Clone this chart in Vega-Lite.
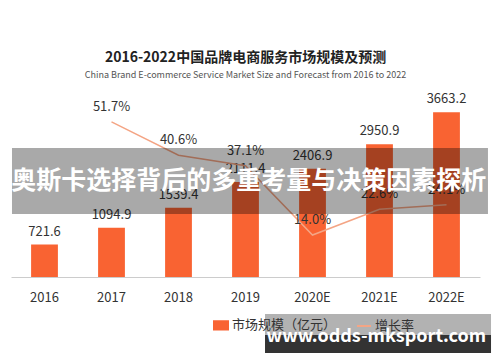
{
  "$schema": "https://vega.github.io/schema/vega-lite/v6.json",
  "width": 469,
  "height": 180,
  "autosize": {"type": "none"},
  "padding": {"left": 11, "top": 97, "right": 20, "bottom": 85},
  "background": "white",
  "config": {"font": "Noto Sans CJK SC", "view": {"stroke": null}},
  "title": {
    "text": "2016-2022中国品牌电商服务市场规模及预测",
    "subtitle": "China Brand E-commerce Service Market Size and Forecast from 2016 to 2022",
    "anchor": "middle",
    "frame": "group",
    "fontSize": 14,
    "fontWeight": "bold",
    "color": "#222222",
    "subtitleFontSize": 9,
    "subtitleColor": "#555555",
    "subtitlePadding": 6,
    "offset": 13
  },
  "datasets": {
    "market": [
      {"year": "2016", "size": 721.6, "growth": null},
      {"year": "2017", "size": 1094.9, "growth": 0.517},
      {"year": "2018", "size": 1539.4, "growth": 0.406},
      {"year": "2019", "size": 2111.4, "growth": 0.371},
      {"year": "2020E", "size": 2406.9, "growth": 0.14},
      {"year": "2021E", "size": 2950.9, "growth": 0.226},
      {"year": "2022E", "size": 3663.2, "growth": 0.241}
    ],
    "boxes": [
      {"name": "banner", "x0": 0.0021, "x1": 1.017, "y0": 1400, "y1": 2867, "shade": 0.63},
      {"name": "wm_top", "x0": 0.5416, "x1": 1.0235, "y0": -1289, "y1": -822, "shade": 0.6},
      {"name": "wm_bottom", "x0": 0.5416, "x1": 1.0235, "y0": -1689, "y1": -1289, "shade": 1}
    ],
    "texts": [
      {"label": "奥斯卡选择背后的多重考量与决策因素探析", "tx": 0.507, "ty": 2133, "kind": "banner"},
      {"label": "www.odds-mksport.com", "tx": 0.779, "ty": -1340, "kind": "wm"}
    ]
  },
  "resolve": {"scale": {"x": "independent", "y": "independent", "color": "shared"}},
  "layer": [
    {
      "data": {"name": "market"},
      "mark": {"type": "bar"},
      "encoding": {
        "x": {
          "field": "year", "type": "nominal", "sort": null,
          "scale": {"domain": ["2016", "2017", "2018", "2019", "2020E", "2021E", "2022E"], "paddingInner": 0.6, "paddingOuter": 0.3},
          "axis": {"title": null, "labelAngle": 0, "labelFontSize": 13, "labelColor": "#333333", "domainColor": "#cccccc", "ticks": false, "labelPadding": 14, "grid": false}
        },
        "y": {"field": "size", "type": "quantitative", "scale": {"domain": [0, 4000], "nice": false}, "axis": null},
        "color": {
          "datum": "市场规模（亿元）",
          "type": "nominal",
          "scale": {"domain": ["市场规模（亿元）", "增长率"], "range": ["#F96332", "#F4A585"]},
          "legend": {
            "title": null,
            "orient": "none",
            "direction": "horizontal",
            "legendX": 202,
            "legendY": 220,
            "labelFontSize": 13,
            "labelColor": "#333333",
            "labelOffset": 3,
            "columnPadding": 16,
            "symbolSize": 196,
            "symbolOpacity": 1,
            "encode": {
              "symbols": {
                "update": {
                  "shape": {"signal": "datum.value === '增长率' ? 'M-1,0H1' : 'M-1,-0.6H1V0.6H-1Z'"},
                  "stroke": {"signal": "datum.value === '增长率' ? '#F4A585' : '#F96332'"},
                  "strokeWidth": {"value": 2},
                  "opacity": {"value": 1}
                }
              }
            }
          }
        }
      }
    },
    {
      "data": {"name": "market"},
      "mark": {"type": "text", "baseline": "bottom", "dy": -6, "fontSize": 13, "color": "#333333"},
      "encoding": {
        "x": {"field": "year", "type": "nominal", "sort": null, "scale": {"domain": ["2016", "2017", "2018", "2019", "2020E", "2021E", "2022E"], "paddingInner": 0.6, "paddingOuter": 0.3}, "axis": null},
        "y": {"field": "size", "type": "quantitative", "scale": {"domain": [0, 4000], "nice": false}, "axis": null},
        "text": {"field": "size", "type": "quantitative", "format": ".1f"}
      }
    },
    {
      "data": {"name": "market"},
      "transform": [{"filter": "datum.growth != null"}],
      "mark": {"type": "line", "strokeWidth": 1.5},
      "encoding": {
        "x": {"field": "year", "type": "nominal", "sort": null, "scale": {"domain": ["2016", "2017", "2018", "2019", "2020E", "2021E", "2022E"], "paddingInner": 0.6, "paddingOuter": 0.3}, "axis": null},
        "y": {"field": "growth", "type": "quantitative", "scale": {"domain": [0, 0.6], "nice": false}, "axis": null},
        "color": {"datum": "增长率", "type": "nominal"}
      }
    },
    {
      "data": {"name": "market"},
      "transform": [{"filter": "datum.growth != null"}],
      "mark": {"type": "text", "baseline": "bottom", "dy": -8, "fontSize": 13, "color": "#333333"},
      "encoding": {
        "x": {"field": "year", "type": "nominal", "sort": null, "scale": {"domain": ["2016", "2017", "2018", "2019", "2020E", "2021E", "2022E"], "paddingInner": 0.6, "paddingOuter": 0.3}, "axis": null},
        "y": {"field": "growth", "type": "quantitative", "scale": {"domain": [0, 0.6], "nice": false}, "axis": null},
        "text": {"field": "growth", "type": "quantitative", "format": ".1%"}
      }
    },
    {
      "data": {"name": "boxes"},
      "mark": {"type": "rect", "color": "#000000"},
      "encoding": {
        "x": {"field": "x0", "type": "quantitative", "scale": {"domain": [0, 1], "nice": false, "zero": false}, "axis": null},
        "x2": {"field": "x1"},
        "y": {"field": "y0", "type": "quantitative", "scale": {"domain": [0, 4000], "nice": false, "zero": false}, "axis": null},
        "y2": {"field": "y1"},
        "opacity": {"field": "shade", "type": "quantitative", "scale": {"type": "identity"}, "legend": null}
      }
    },
    {
      "data": {"name": "texts"},
      "mark": {"type": "text", "color": "#ffffff", "fontWeight": "bold", "baseline": "middle", "align": "center"},
      "encoding": {
        "x": {"field": "tx", "type": "quantitative", "scale": {"domain": [0, 1], "nice": false, "zero": false}, "axis": null},
        "y": {"field": "ty", "type": "quantitative", "scale": {"domain": [0, 4000], "nice": false, "zero": false}, "axis": null},
        "text": {"field": "label", "type": "nominal"},
        "size": {"field": "kind", "type": "nominal", "scale": {"domain": ["banner", "wm"], "range": [25, 18]}, "legend": null}
      }
    }
  ]
}
